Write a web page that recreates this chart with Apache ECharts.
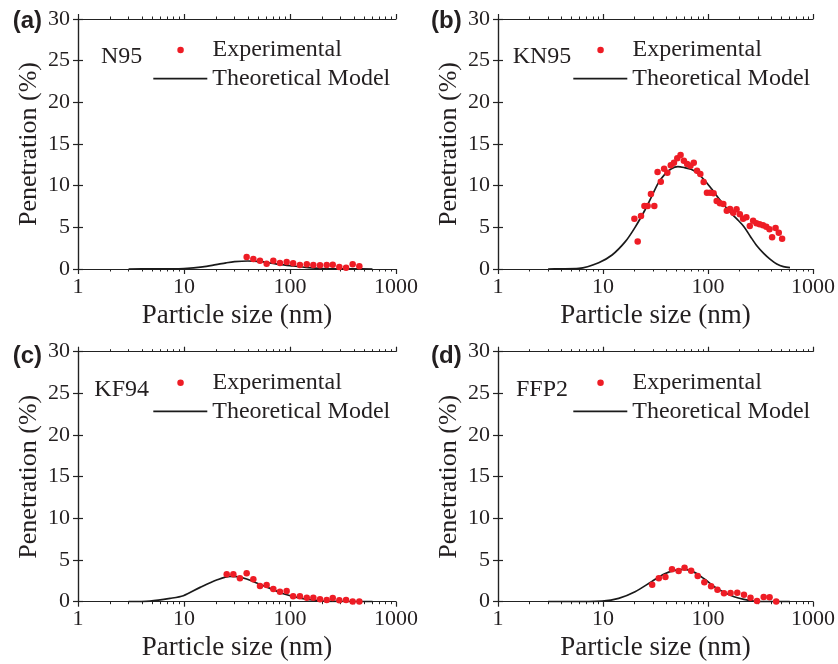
<!DOCTYPE html>
<html>
<head>
<meta charset="utf-8">
<script src="https://cdn.jsdelivr.net/npm/echarts@6/dist/echarts.min.js"></script>
<style>html,body{margin:0;padding:0;background:#fff}#c{width:838px;height:664px}</style>
</head>
<body>
<div id="c"></div>
<script>
// ---- data ----
const panelLabels = ['(a)', '(b)', '(c)', '(d)'];
const maskNames = ['N95', 'KN95', 'KF94', 'FFP2'];
const xTickLabels = [1, 10, 100, 1000];
const xMinorTicks = [2,3,4,5,6,7,8,9,20,30,40,50,60,70,80,90,200,300,400,500,600,700,800,900];

const aExpX = [39.0,45.1,52.1,60.2,69.6,80.4,93,107,124,144,166,192,222,253,292,338,390,451];
const aExpY = [1.44,1.2,1.0,0.64,1.0,0.72,0.84,0.68,0.48,0.56,0.48,0.44,0.48,0.52,0.24,0.16,0.56,0.32];
const aThX = [3,5,7,10,15,20,25,30,40,50,60,80,100,150,200,300,400,600];
const aThY = [0,0.01,0.02,0.06,0.25,0.52,0.74,0.88,0.96,0.92,0.8,0.55,0.4,0.16,0.06,0.02,0.01,0];

const bExpX = [19.9,21.4,23.0,24.8,26.6,28.6,30.8,33.1,35.5,38.2,41.0,44.2,47.4,51.0,54.8,58.9,63.3,68.1,73.2,78.6,84.5,90.9,97.7,105,113,121,130,140,151,162,174,187,201,216,232,250,269,289,310,334,359,385,408,440,472,508];
const bExpY = [6.04,3.3,6.36,7.56,7.56,9.0,7.56,11.64,10.48,12.04,11.56,12.44,12.76,13.3,13.68,13.0,12.6,12.4,12.76,11.8,11.4,10.44,9.16,9.16,9.08,8.16,7.88,7.8,7.0,7.2,6.76,7.16,6.56,6.04,6.2,5.16,5.8,5.48,5.36,5.24,5.08,4.76,3.8,4.92,4.36,3.64];
const bThX = [3,3.84,5.9,9.1,12.2,16.3,20.2,25.1,29,33.5,38.7,44.8,51.7,59.8,69,79.8,92.3,107,123,142,164,190,220,254,293,339,392,452,523,604];
const bThY = [0,0.02,0.08,0.76,1.68,3.28,5.0,7.08,8.68,10.28,11.36,12.04,12.28,12.16,11.96,11.48,10.68,9.68,8.68,7.68,6.76,5.96,5.08,3.88,2.76,1.88,1.16,0.6,0.28,0.16];

const cExpX = [25.3,29.2,33.7,39.0,45.1,52.1,60.2,69.6,80.4,93,107,124,144,166,192,222,253,292,338,390,451];
const cExpY = [3.28,3.28,2.8,3.4,2.68,1.88,2.0,1.52,1.2,1.28,0.64,0.64,0.48,0.48,0.28,0.2,0.44,0.16,0.2,0.02,0.02];
const cThX = [3,4.78,7.38,9.86,14.2,20.3,27.2,31.4,39,48.5,64.8,86.5,116,154,206,276,400,600];
const cThY = [0,0.08,0.4,0.72,1.72,2.6,3.05,3.0,2.72,2.24,1.6,0.96,0.52,0.24,0.08,0.04,0.01,0];

const dExpX = [29.4,34.0,39.3,45.4,52.5,59.8,69.1,79.8,92.3,107,123,142,164,190,220,254,293,339,386,446];
const dExpY = [2.04,2.8,2.96,3.88,3.68,4.08,3.72,3.08,2.32,1.84,1.44,1.0,1.04,1.08,0.84,0.48,0.08,0.56,0.52,0.02];
const dThX = [3,4.76,9.8,14.1,20.2,29,38.7,48.2,59.8,74.3,92.3,115,142,177,220,273,364,600];
const dThY = [0,0,0.08,0.4,1.2,2.4,3.36,3.76,3.88,3.52,2.72,1.8,1.12,0.6,0.28,0.08,0.01,0];

const expX = [aExpX, bExpX, cExpX, dExpX];
const expY = [aExpY, bExpY, cExpY, dExpY];
const thX = [aThX, bThX, cThX, dThX];
const thY = [aThY, bThY, cThY, dThY];

// ---- layout ----
const serif = "'Liberation Serif','Times New Roman',serif";
const ink = '#231f20';
const axisColor = '#222';
const offs = [[0,0],[420,0],[0,332.7],[420,332.7]];
const maskLeft = [101, 512.7, 94.3, 516];
const maskTop = [45, 45, 378, 378];

const pair = (xs, ys) => xs.map((x, i) => [x, ys[i]]);
const minorPos = xMinorTicks.map(v => Math.log10(v)); // tick positions on a helper decade axis (0..3)

const grids = [], xAxes = [], yAxes = [], series = [], legends = [], titles = [];
offs.forEach(([ox, oy], i) => {
  grids.push({left: 78 + ox, top: 19 + oy, width: 318, height: 250});
  const baseX = {gridIndex: i, type: 'log', logBase: 10, min: 1, max: 1000, splitLine: {show: false}};
  const helperX = {gridIndex: i, type: 'value', min: 0, max: 3, splitLine: {show: false},
    axisLine: {show: false}, axisLabel: {show: false},
    axisTick: {show: true, length: 2.5, lineStyle: {color: axisColor, width: 1}, customValues: minorPos}};
  xAxes.push(Object.assign({}, baseX, {
    position: 'bottom',
    axisLine: {show: true, lineStyle: {color: axisColor, width: 1.2}},
    axisTick: {show: true, length: 5, lineStyle: {color: axisColor, width: 1.2}},
    axisLabel: {show: true, margin: 7, fontSize: 22, fontFamily: serif, color: ink, formatter: v => String(v)},
    name: 'Particle size (nm)', nameLocation: 'middle', nameGap: 33,
    nameTextStyle: {fontSize: 27, fontFamily: serif, color: ink}
  }));
  xAxes.push(Object.assign({}, helperX, {position: 'bottom'}));
  xAxes.push(Object.assign({}, baseX, {
    position: 'top',
    axisLine: {show: true, lineStyle: {color: axisColor, width: 1.2}},
    axisTick: {show: true, length: 5, lineStyle: {color: axisColor, width: 1.2}},
    axisLabel: {show: false}
  }));
  xAxes.push(Object.assign({}, helperX, {position: 'top'}));
  const baseY = {gridIndex: i, type: 'value', min: 0, max: 30, interval: 5, splitLine: {show: false},
    axisLine: {show: true, lineStyle: {color: axisColor, width: 1.2}},
    axisTick: {show: true, length: 5, lineStyle: {color: axisColor, width: 1.2}}};
  yAxes.push(Object.assign({}, baseY, {
    position: 'left',
    axisLabel: {margin: 8, fontSize: 22, fontFamily: serif, color: ink},
    name: 'Penetration (%)', nameLocation: 'middle', nameGap: 36,
    nameTextStyle: {fontSize: 26, fontFamily: serif, color: ink}
  }));
  yAxes.push(Object.assign({}, baseY, {position: 'right', axisLabel: {show: false}}));

  series.push({
    name: 'Theoretical Model', type: 'line', xAxisIndex: 4*i, yAxisIndex: 2*i,
    data: pair(thX[i], thY[i]), symbol: 'none', smooth: 0.3,
    lineStyle: {color: '#1a1a1a', width: 1.7}, itemStyle: {color: '#1a1a1a'}, z: 2
  });
  series.push({
    name: 'Experimental', type: 'scatter', xAxisIndex: 4*i, yAxisIndex: 2*i,
    data: pair(expX[i], expY[i]), symbol: 'circle', symbolSize: 6.5,
    itemStyle: {color: '#ee1c25', opacity: 1}, z: 3
  });

  legends.push({
    data: [{name: 'Experimental', icon: 'circle'}], left: 177.3 + ox, top: 38 + oy, orient: 'vertical',
    itemWidth: 54, itemHeight: 6.5, itemGap: 0, selectedMode: false, padding: 0,
    textStyle: {fontSize: 24, lineHeight: 24, fontFamily: serif, color: ink}
  });
  legends.push({
    data: [{name: 'Theoretical Model', icon: 'rect'}], left: 153.3 + ox, top: 66.7 + oy, orient: 'vertical',
    itemWidth: 54, itemHeight: 1.8, itemGap: 0, selectedMode: false, padding: 0,
    textStyle: {fontSize: 24, lineHeight: 24, fontFamily: serif, color: ink}
  });

  titles.push({
    text: maskNames[i], left: maskLeft[i], top: maskTop[i], padding: 0,
    textStyle: {fontSize: 24, fontWeight: 'normal', fontFamily: serif, color: ink, lineHeight: 24}
  });
  titles.push({
    text: panelLabels[i], left: (i % 2 ? 431 : 12.7), top: (i < 2 ? 9.5 : 344.5), padding: 0,
    textStyle: {fontSize: 24, fontWeight: 'bold', fontFamily: "'Liberation Sans',Arial,sans-serif", color: ink, lineHeight: 24}
  });
});

const chart = echarts.init(document.getElementById('c'), null, {renderer: 'canvas'});
chart.setOption({
  animation: false,
  backgroundColor: '#fff',
  title: titles,
  legend: legends,
  grid: grids,
  xAxis: xAxes,
  yAxis: yAxes,
  series: series
});
</script>
</body>
</html>
